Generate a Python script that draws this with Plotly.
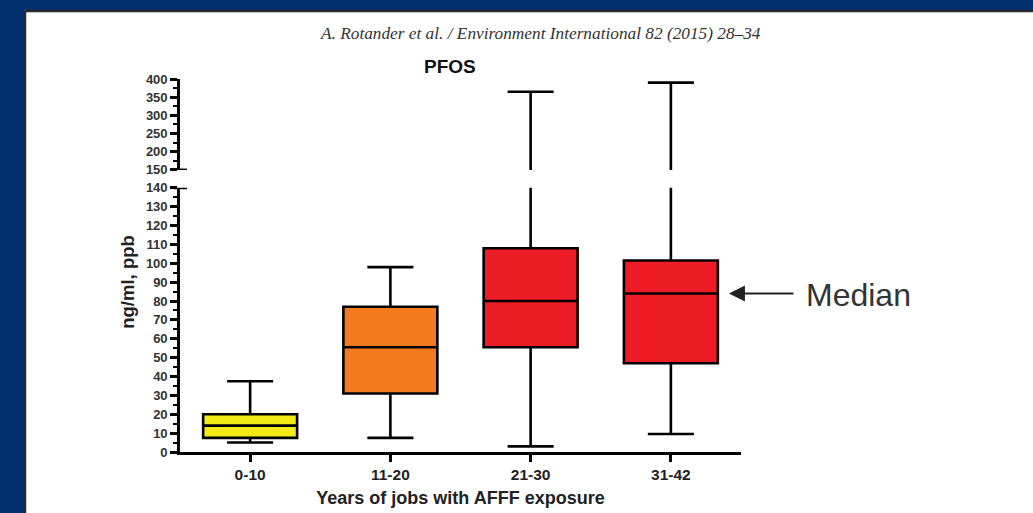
import plotly.graph_objects as go

# ---- data ----
categories = ["0-10", "11-20", "21-30", "31-42"]
q1_vals = [7.5, 31, 55.5, 47]
median_vals = [14, 55.5, 80, 84]
q3_vals = [20, 77, 108, 101.5]
low_whisker = [5, 7.5, 3, 9.5]
high_whisker = [37.5, 98, 365, 390]
box_colors = ["#f2ea16", "#f47a22", "#ee1d25", "#ee1d25"]

lower_ticks = list(range(0, 141, 10))
upper_ticks = list(range(150, 401, 50))

# ---- layout geometry (pixels) ----
W, H = 1033, 513
L, R = 180, 741
T, B = 79, 452.5
PW, PH = R - L, B - T


def px(x):
    return (x - L) / PW


def py(y):
    return (B - y) / PH


lower_top = py(188)
upper_bottom = py(170)

fig = go.Figure()

for i, cat in enumerate(categories):
    for yax in ("y", "y2"):
        fig.add_trace(go.Box(
            x=[cat], q1=[q1_vals[i]], median=[median_vals[i]], q3=[q3_vals[i]],
            lowerfence=[low_whisker[i]], upperfence=[high_whisker[i]],
            fillcolor=box_colors[i], line=dict(color="black", width=2.6),
            whiskerwidth=0.49, width=0.67, boxpoints=False,
            yaxis=yax, showlegend=False, hoverinfo="skip",
        ))

tickfont = dict(family="Liberation Sans", size=13, color="#333333", weight="bold")

fig.update_layout(
    width=W, height=H,
    margin=dict(l=L, r=W - R, t=T, b=H - B, pad=0, autoexpand=False),
    paper_bgcolor="white",
    plot_bgcolor="white",
    xaxis=dict(
        type="category", categoryorder="array", categoryarray=categories,
        range=[-0.5, 3.5], anchor="y", automargin=False,
        showline=True, linecolor="black", linewidth=2.6,
        ticks="outside", ticklen=7, tickwidth=2.5, tickcolor="black",
        showgrid=False, zeroline=False,
        tickfont=dict(family="Liberation Sans", size=15.5, color="#222222", weight="bold"),
        title=dict(text="Years of jobs with AFFF exposure", standoff=9,
                   font=dict(family="Liberation Sans", size=18, color="#222222", weight="bold")),
    ),
    yaxis=dict(
        domain=[0, lower_top], range=[0, 140], anchor="x", automargin=False,
        tickmode="array", tickvals=lower_ticks,
        showline=True, linecolor="black", linewidth=2.6,
        ticks="outside", ticklen=7, tickwidth=2.5, tickcolor="black",
        minor=dict(dtick=5, ticks="outside", ticklen=4, tickwidth=2, tickcolor="black"),
        showgrid=False, zeroline=False, tickfont=tickfont,
    ),
    yaxis2=dict(
        domain=[upper_bottom, 1], range=[150, 400], anchor="x", automargin=False,
        tickmode="array", tickvals=upper_ticks,
        showline=True, linecolor="black", linewidth=2.6,
        ticks="outside", ticklen=7, tickwidth=2.5, tickcolor="black",
        minor=dict(dtick=25, ticks="outside", ticklen=4, tickwidth=2, tickcolor="black"),
        showgrid=False, zeroline=False, tickfont=tickfont,
    ),
)

# blue slide background around the white page, with dark page edge
blue = "#00306f"
fig.add_shape(type="rect", xref="paper", yref="paper",
              x0=px(980), x1=px(W + 20), y0=py(H + 20), y1=py(12.5),
              fillcolor="white", line=dict(width=0), layer="below")
fig.add_shape(type="rect", xref="paper", yref="paper",
              x0=px(-10), x1=px(W + 10), y0=py(10.5), y1=py(-10),
              fillcolor=blue, line=dict(width=0), layer="below")
fig.add_shape(type="rect", xref="paper", yref="paper",
              x0=px(-10), x1=px(24.5), y0=py(H + 10), y1=py(-10),
              fillcolor=blue, line=dict(width=0), layer="below")
fig.add_shape(type="line", xref="paper", yref="paper",
              x0=px(25), x1=px(W + 10), y0=py(11), y1=py(11),
              line=dict(color="#2a2a2e", width=2.5), layer="below")
fig.add_shape(type="line", xref="paper", yref="paper",
              x0=px(25), x1=px(25), y0=py(11), y1=py(H + 10),
              line=dict(color="#2a2a2e", width=2.5), layer="below")

# axis-break caps
fig.add_shape(type="line", xref="paper", yref="y", x0=px(173), x1=px(187),
              y0=140, y1=140, line=dict(color="black", width=2.6))
fig.add_shape(type="line", xref="paper", yref="y2", x0=px(173), x1=px(187),
              y0=150, y1=150, line=dict(color="black", width=2.6))

# header, title, y title
fig.add_annotation(text="A. Rotander et al. / Environment International 82 (2015) 28–34",
                   xref="paper", yref="paper", x=px(540), y=py(33),
                   showarrow=False, xanchor="center", yanchor="middle",
                   font=dict(family="Liberation Serif", size=17.3, color="#333333", style="italic"))
fig.add_annotation(text="PFOS", xref="paper", yref="paper", x=px(450), y=py(66),
                   showarrow=False, xanchor="center", yanchor="middle",
                   font=dict(family="Liberation Sans", size=19, color="#111111", weight="bold"))
fig.add_annotation(text="ng/ml, ppb", xref="paper", yref="paper", x=px(128), y=py(282),
                   showarrow=False, textangle=-90, xanchor="center", yanchor="middle",
                   font=dict(family="Liberation Sans", size=18.5, color="#222222", weight="bold"))

# median callout
arrow_x = 3.414
fig.add_annotation(x=arrow_x, y=median_vals[3], xref="x", yref="y", text="",
                   showarrow=True, ax=66, ay=0, arrowhead=2, arrowsize=1.6,
                   arrowwidth=2, arrowcolor="#222222")
fig.add_annotation(x=arrow_x, y=median_vals[3], xref="x", yref="y", text="Median",
                   showarrow=False, xanchor="left", yanchor="middle", xshift=75, yshift=-1,
                   font=dict(family="Liberation Sans", size=32, color="#333333"))

fig.write_html("out.html", config={"displayModeBar": False},
               post_script=("document.body.style.margin='0';"
                            "document.body.style.overflow='hidden';"
                            "document.documentElement.style.overflow='hidden';"
                            "document.documentElement.style.background='white';"
                            "document.body.style.background='white';"))
